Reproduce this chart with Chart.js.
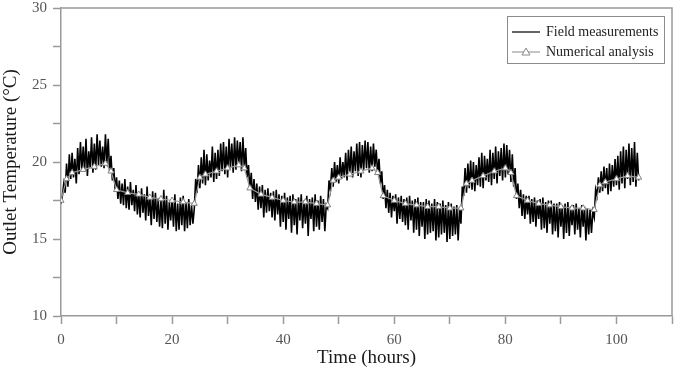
<!DOCTYPE html>
<html>
<head>
<meta charset="utf-8">
<script src="https://cdn.jsdelivr.net/npm/chart.js@4.4.0/dist/chart.umd.min.js"></script>
<style>
  html, body { margin: 0; padding: 0; background: #fff; }
  #wrap { width: 679px; height: 371px; position: relative; }
</style>
</head>
<body>
<div id="wrap"><canvas id="outletChart"></canvas></div>
<script>
// Field measurements: one reading every 15 min (4 per hour), hours 0 .. 104
const fieldStep = 0.25;
const fieldTemps = [
  // day 1
  17.3, 17.8, 18.6, 18.0,   19.9, 18.4, 20.5, 18.9,   20.6, 19.0, 20.2, 18.6,   20.9, 19.2, 21.3, 19.5,
  21.0, 19.4, 21.5, 19.1,   20.7, 19.6, 21.6, 19.3,   21.2, 19.5, 21.8, 19.8,   21.4, 19.7, 21.0, 19.6,
  21.8, 19.9, 21.5, 19.4,   20.4, 18.8, 19.6, 18.2,   19.0, 17.6, 18.8, 17.3,   18.6, 17.2, 18.9, 17.0,
  18.4, 16.9, 18.7, 17.2,   18.2, 16.8, 18.5, 16.6,   18.0, 16.4, 18.3, 16.7,   17.9, 16.2, 18.4, 16.5,
  17.7, 15.9, 18.1, 16.3,   18.0, 16.1, 17.6, 15.8,   17.5, 15.7, 18.2, 16.0,   17.8, 15.6, 17.4, 16.2,
  17.6, 15.8, 17.9, 15.5,   17.3, 15.6, 17.7, 15.9,   17.8, 15.5, 17.4, 15.7,   17.6, 15.9, 17.2, 16.0,
  // day 2
  17.0, 18.9, 18.0, 19.8,   18.3, 20.3, 18.6, 20.8,   18.5, 20.5, 18.8, 20.1,   19.0, 21.0, 18.7, 20.6,
  18.9, 20.8, 19.1, 21.2,   19.4, 21.3, 19.2, 21.0,   19.0, 21.5, 19.6, 21.2,   19.3, 21.6, 19.5, 21.4,
  19.8, 21.3, 19.4, 21.6,   19.6, 20.9, 19.0, 19.8,   18.2, 19.3, 17.6, 18.9,   17.4, 18.6, 16.9, 18.4,
  17.0, 18.5, 16.4, 18.2,   16.7, 18.3, 16.8, 18.0,   16.4, 18.1, 16.2, 18.2,   16.6, 17.9, 15.8, 17.8,
  16.1, 18.0, 15.6, 17.7,   16.3, 17.8, 15.4, 17.9,   15.9, 17.6, 15.3, 17.7,   16.2, 17.9, 15.7, 17.5,
  16.0, 17.8, 15.2, 17.6,   16.3, 17.7, 15.5, 17.9,   15.8, 17.5, 15.6, 17.8,   16.1, 17.6, 15.5, 17.2,
  // day 3
  17.0, 18.8, 18.2, 19.6,   18.4, 20.0, 18.7, 19.8,   18.6, 20.3, 18.9, 20.0,   19.0, 20.6, 18.8, 20.8,
  19.2, 21.0, 19.0, 20.7,   19.4, 21.2, 19.1, 21.3,   19.0, 21.1, 19.5, 21.4,   19.6, 21.3, 19.3, 21.0,
  19.4, 21.2, 19.7, 20.8,   19.2, 20.2, 18.6, 19.4,   17.6, 18.5, 17.0, 18.2,   16.7, 18.0, 16.4, 17.8,
  16.8, 17.9, 16.0, 17.7,   16.3, 17.8, 16.1, 17.6,   15.9, 17.7, 15.6, 17.8,   16.2, 17.5, 15.4, 17.6,
  15.6, 17.7, 15.2, 17.4,   15.8, 17.4, 15.0, 17.6,   15.3, 17.5, 15.4, 17.3,   15.5, 17.6, 14.9, 17.4,
  15.1, 17.3, 15.3, 17.5,   15.4, 17.2, 14.8, 17.4,   15.0, 17.3, 15.2, 17.1,   15.3, 17.2, 14.9, 17.0,
  // day 4
  16.0, 18.4, 17.8, 19.6,   18.0, 19.9, 18.3, 20.1,   18.2, 20.0, 18.1, 19.8,   18.5, 20.3, 18.4, 20.6,
  18.3, 20.4, 18.8, 20.2,   18.7, 20.8, 18.5, 20.6,   18.9, 21.0, 18.6, 20.7,   19.1, 20.9, 18.8, 21.2,
  19.0, 21.1, 19.2, 20.8,   18.7, 20.5, 18.4, 19.6,   17.6, 18.6, 17.0, 18.2,   16.5, 17.9, 16.3, 17.8,
  16.6, 17.8, 16.0, 17.6,   16.1, 17.7, 15.8, 17.5,   16.3, 17.6, 15.6, 17.7,   15.7, 17.4, 15.4, 17.5,
  16.0, 17.5, 15.3, 17.3,   15.5, 17.3, 15.1, 17.4,   15.8, 17.2, 15.0, 17.3,   15.4, 17.4, 15.2, 17.1,
  15.9, 17.2, 15.3, 17.3,   15.6, 17.0, 15.1, 17.2,   15.8, 17.1, 14.9, 17.0,   15.3, 16.9, 15.4, 16.8,
  // day 5
  16.4, 18.2, 17.8, 19.0,   18.0, 19.4, 18.1, 19.7,   18.3, 19.6, 17.9, 19.9,   18.1, 19.8, 18.4, 20.2,
  18.5, 20.4, 18.2, 20.7,   18.6, 21.0, 18.3, 20.8,   18.9, 21.2, 18.5, 20.9,   18.7, 21.3, 18.4, 20.6,
  18.8
];

// Numerical analysis (open triangles)
const numHours = [0, 1, 2, 4, 6, 8, 9, 10, 12, 14, 16, 18, 20, 22, 24,
  25, 26, 28, 30, 32, 33, 34, 36, 38, 40, 42, 44, 46, 48,
  49, 50, 52, 54, 56, 57, 58, 60, 62, 64, 66, 68, 70, 72,
  73, 74, 76, 78, 80, 81, 82, 84, 86, 88, 90, 92, 94, 96,
  97, 98, 100, 102, 104];
const numTemps = [17.5, 18.9, 19.3, 19.5, 19.7, 19.9, 19.4, 18.2, 18.0, 17.9, 17.7, 17.6, 17.5, 17.4, 17.3,
  19.0, 19.2, 19.4, 19.6, 19.8, 19.6, 18.3, 17.9, 17.7, 17.5, 17.4, 17.4, 17.3, 17.2,
  18.8, 19.0, 19.2, 19.4, 19.6, 19.3, 17.8, 17.5, 17.3, 17.2, 17.1, 17.1, 17.0, 17.0,
  18.6, 18.8, 19.1, 19.4, 19.6, 19.3, 17.8, 17.5, 17.3, 17.2, 17.1, 17.0, 17.0, 16.9,
  18.5, 18.7, 18.9, 19.1, 19.0];

const xTicks = [0, 20, 40, 60, 80, 100];
const yTicks = [10, 15, 20, 25, 30];
const seriesNames = ['Field measurements', 'Numerical analysis'];

const SERIF = "'Liberation Serif', 'Times New Roman', serif";
const AXIS_GRAY = '#9a9a9a';

const fieldPoints = fieldTemps.map((t, i) => ({ x: i * fieldStep, y: t }));
const numPoints = numHours.map((h, i) => ({ x: h, y: numTemps[i] }));

// top/right frame of the plot box
const framePlugin = {
  id: 'frame',
  beforeDatasetsDraw(chart) {
    const { ctx, chartArea: a } = chart;
    ctx.save();
    ctx.strokeStyle = AXIS_GRAY;
    ctx.lineWidth = 1.5;
    ctx.beginPath();
    ctx.moveTo(a.left, a.top);
    ctx.lineTo(a.right, a.top);
    ctx.lineTo(a.right, a.bottom);
    ctx.stroke();
    ctx.restore();
  }
};

// boxed legend in the upper right corner of the plot
const boxLegend = {
  id: 'boxLegend',
  afterDraw(chart) {
    const { ctx, chartArea: a } = chart;
    const w = 157, h = 47;
    const x0 = a.right - 8 - w;
    const y0 = a.top + 8;
    ctx.save();
    ctx.fillStyle = '#fff';
    ctx.fillRect(x0, y0, w, h);
    ctx.strokeStyle = '#8c8c8c';
    ctx.lineWidth = 1;
    ctx.strokeRect(x0 + 0.5, y0 + 0.5, w, h);

    const rows = [y0 + 16, y0 + 36];
    // field line sample
    ctx.strokeStyle = '#111';
    ctx.lineWidth = 1.3;
    ctx.beginPath();
    ctx.moveTo(x0 + 5, rows[0]);
    ctx.lineTo(x0 + 33, rows[0]);
    ctx.stroke();
    // numerical sample: line + triangle
    ctx.strokeStyle = '#8a8a8a';
    ctx.lineWidth = 1;
    ctx.beginPath();
    ctx.moveTo(x0 + 5, rows[1]);
    ctx.lineTo(x0 + 33, rows[1]);
    ctx.stroke();
    const cx = x0 + 19, cy = rows[1];
    ctx.fillStyle = '#fff';
    ctx.beginPath();
    ctx.moveTo(cx, cy - 4);
    ctx.lineTo(cx + 4, cy + 3);
    ctx.lineTo(cx - 4, cy + 3);
    ctx.closePath();
    ctx.fill();
    ctx.stroke();

    ctx.fillStyle = '#222';
    ctx.font = '14px ' + SERIF;
    ctx.textBaseline = 'middle';
    ctx.fillText(seriesNames[0], x0 + 39, rows[0]);
    ctx.fillText(seriesNames[1], x0 + 39, rows[1]);
    ctx.restore();
  }
};

new Chart(document.getElementById('outletChart'), {
  type: 'line',
  data: {
    datasets: [{
      label: seriesNames[0],
      data: fieldPoints,
      borderColor: '#000',
      borderWidth: 1.6,
      pointRadius: 0,
      tension: 0,
      order: 1
    }, {
      label: seriesNames[1],
      data: numPoints,
      borderColor: '#9a9a9a',
      borderWidth: 1.2,
      pointStyle: 'triangle',
      pointRadius: 3.5,
      pointBackgroundColor: '#fff',
      pointBorderColor: '#808080',
      pointBorderWidth: 1,
      tension: 0,
      order: 0
    }]
  },
  options: {
    responsive: true,
    maintainAspectRatio: false,
    animation: false,
    layout: { padding: { top: 8, right: 6, left: 0, bottom: 0 } },
    plugins: {
      legend: { display: false },
      tooltip: { enabled: false }
    },
    scales: {
      x: {
        type: 'linear',
        min: 0,
        max: 110,
        afterFit: s => { s.height = 55; },
        ticks: {
          stepSize: 10,
          autoSkip: false,
          maxRotation: 0,
          padding: 7,
          color: '#555',
          font: { family: SERIF, size: 15 },
          callback: v => xTicks.includes(v) ? String(v) : ''
        },
        grid: { drawOnChartArea: false, tickLength: 8, tickColor: AXIS_GRAY, tickWidth: 1.5 },
        border: { color: AXIS_GRAY, width: 1.5 },
        title: {
          display: true,
          text: 'Time (hours)',
          color: '#1a1a1a',
          font: { family: SERIF, size: 19 },
          padding: { top: 0, bottom: 2 }
        }
      },
      y: {
        min: 10,
        max: 30,
        afterFit: s => { s.width = 61; s.paddingTop = 0; s.paddingBottom = 0; },
        ticks: {
          stepSize: 2.5,
          autoSkip: false,
          padding: 6,
          color: '#555',
          font: { family: SERIF, size: 15 },
          callback: v => yTicks.includes(v) ? String(v) : ''
        },
        grid: { drawOnChartArea: false, tickLength: 8, tickColor: AXIS_GRAY, tickWidth: 1.5 },
        border: { color: AXIS_GRAY, width: 1.5 },
        title: {
          display: true,
          text: 'Outlet Temperature (\u00B0C)',
          color: '#1a1a1a',
          font: { family: SERIF, size: 19 },
          padding: { top: 0, bottom: 0 }
        }
      }
    }
  },
  plugins: [framePlugin, boxLegend]
});
</script>
</body>
</html>
